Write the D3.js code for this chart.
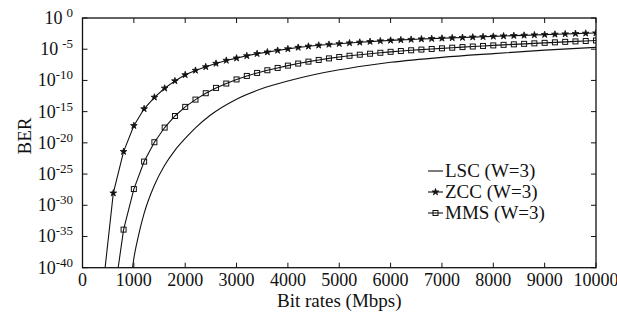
<!DOCTYPE html>
<html>
<head>
<meta charset="utf-8">
<script src="https://cdn.jsdelivr.net/npm/d3@7"></script>
<style>
  body { margin: 0; background: #fff; }
</style>
</head>
<body>
<div id="chart"></div>
<script>
// BER, kept as log10(BER)
const zccRates = d3.range(400, 10001, 200);
const zccLog = [-43, -28.05, -21.4, -17.25, -14.55, -12.7, -11.25, -10.08, -9.1, -8.4,
  -7.82, -7.28, -6.8, -6.43, -6.06, -5.72, -5.46, -5.2, -4.95, -4.72,
  -4.53, -4.37, -4.24, -4.12, -4.0, -3.89, -3.78, -3.68, -3.58,
  -3.51, -3.44, -3.37, -3.31, -3.25, -3.19, -3.13, -3.07, -3.01, -2.95,
  -2.89, -2.83, -2.78, -2.72, -2.67, -2.61, -2.56, -2.5, -2.45, -2.4];

const mmsRates = d3.range(600, 10001, 200);
const mmsLog = [-45.5, -33.9, -27.4, -23.0, -19.9, -17.55, -15.7, -14.24, -13.07, -12.05,
  -11.2, -10.5, -9.84, -9.28, -8.8, -8.37, -8.0, -7.63, -7.3, -6.99,
  -6.72, -6.47, -6.25, -6.05, -5.88, -5.72, -5.57, -5.42,
  -5.29, -5.17, -5.06, -4.96, -4.86, -4.76, -4.66, -4.57, -4.48, -4.39,
  -4.3, -4.22, -4.14, -4.06, -3.98, -3.9, -3.82, -3.75, -3.68, -3.6];

const lscRates = [900, 1000, 1100, 1200, 1400, 1600, 1800, 2000, 2200, 2500, 3000,
  3500, 4000, 4500, 5000, 5500, 6000, 7000, 8000, 9000, 10000];
const lscLog = [-45, -38.5, -34.5, -31.3, -26.8, -23.6, -21.2, -19.3, -17.6, -15.5, -13.0,
  -11.3, -10.1, -9.1, -8.3, -7.65, -7.1, -6.3, -5.7, -5.15, -4.7];

const xTicks = d3.range(0, 10001, 1000);
const yTickExp = [0, -5, -10, -15, -20, -25, -30, -35, -40];
const legendNames = ["LSC (W=3)", "ZCC (W=3)", "MMS (W=3)"];

const W = 617, H = 322;
const pLeft = 82.5, pRight = 596, pTop = 18, pBottom = 267.7;
const serif = "'Liberation Serif', 'Times New Roman', 'DejaVu Serif', serif";

const svg = d3.select("#chart").append("svg")
    .attr("width", W).attr("height", H)
    .attr("font-family", serif);

const x = d3.scaleLinear().domain([0, 10000]).range([pLeft, pRight]);
const y = d3.scaleLog().domain([1e-40, 1]).range([pBottom, pTop]);

svg.append("clipPath").attr("id", "plotclip")
  .append("rect")
    .attr("x", pLeft).attr("y", pTop)
    .attr("width", pRight - pLeft).attr("height", pBottom - pTop);

// frame
svg.append("rect")
    .attr("x", pLeft).attr("y", pTop)
    .attr("width", pRight - pLeft).attr("height", pBottom - pTop)
    .attr("fill", "none").attr("stroke", "#111").attr("stroke-width", 1.3);

// ticks, all pointing inward
const tickG = svg.append("g").attr("stroke", "#111").attr("stroke-width", 1);
xTicks.forEach(t => {
  tickG.append("line").attr("x1", x(t)).attr("x2", x(t)).attr("y1", pBottom).attr("y2", pBottom - 5);
  tickG.append("line").attr("x1", x(t)).attr("x2", x(t)).attr("y1", pTop).attr("y2", pTop + 5);
});
yTickExp.forEach(e => {
  const yy = y(Math.pow(10, e));
  tickG.append("line").attr("x1", pLeft).attr("x2", pLeft + 5).attr("y1", yy).attr("y2", yy);
  tickG.append("line").attr("x1", pRight).attr("x2", pRight - 5).attr("y1", yy).attr("y2", yy);
});

// x tick labels
svg.append("g").selectAll("text")
  .data(xTicks).enter().append("text")
    .attr("x", d => x(d))
    .attr("y", 286)
    .attr("text-anchor", "middle")
    .attr("font-family", serif)
    .style("font-size", "18px")
    .attr("fill", "#111")
    .text(d => d);

// y tick labels 10^n
const yl = svg.append("g").selectAll("text")
  .data(yTickExp).enter().append("text")
    .attr("x", 73)
    .attr("y", d => y(Math.pow(10, d)) + 6)
    .attr("text-anchor", "end")
    .attr("font-family", serif)
    .attr("fill", "#111")
    .style("font-size", "18px");
yl.append("tspan").text("10");
yl.append("tspan")
    .attr("dx", d => (d === 0 || d === -5) ? 4 : 0)
    .attr("dy", -7)
    .style("font-size", "13px")
    .text(d => d === 0 ? "0" : "-" + Math.abs(d));

// axis titles
svg.append("text")
    .attr("x", (pLeft + pRight) / 2)
    .attr("y", 307)
    .attr("text-anchor", "middle")
    .attr("font-family", serif)
    .attr("fill", "#111")
    .style("font-size", "19px")
    .text("Bit rates (Mbps)");

svg.append("text")
    .attr("transform", "translate(31,136) rotate(-90)")
    .attr("text-anchor", "middle")
    .attr("font-family", serif)
    .attr("fill", "#111")
    .style("font-size", "19px")
    .text("BER");

// series
const plot = svg.append("g").attr("clip-path", "url(#plotclip)");

const lscData = lscRates.map((r, i) => [r, lscLog[i]]);
const zccData = zccRates.map((r, i) => [r, zccLog[i]]);
const mmsData = mmsRates.map((r, i) => [r, mmsLog[i]]);

const smooth = d3.line().x(d => x(d[0])).y(d => y(Math.pow(10, d[1]))).curve(d3.curveMonotoneX);
plot.append("path").datum(lscData)
    .attr("d", smooth)
    .attr("fill", "none").attr("stroke", "#111").attr("stroke-width", 1.1);

const lin = d3.line().x(d => x(d[0])).y(d => y(Math.pow(10, d[1])));
plot.append("path").datum(zccData)
    .attr("d", lin)
    .attr("fill", "none").attr("stroke", "#111").attr("stroke-width", 1.1);
plot.append("path").datum(mmsData)
    .attr("d", lin)
    .attr("fill", "none").attr("stroke", "#111").attr("stroke-width", 1.1);

const star = d3.symbol().type(d3.symbolStar).size(14);
plot.selectAll(".zcc").data(zccData).enter().append("path")
    .attr("class", "zcc")
    .attr("transform", d => `translate(${x(d[0])},${y(Math.pow(10, d[1]))})`)
    .attr("d", star)
    .attr("fill", "#111").attr("stroke", "#111").attr("stroke-width", 0.8);

plot.selectAll(".mms").data(mmsData).enter().append("rect")
    .attr("class", "mms")
    .attr("x", d => x(d[0]) - 2.5)
    .attr("y", d => y(Math.pow(10, d[1])) - 2.5)
    .attr("width", 5).attr("height", 5)
    .attr("fill", "none").attr("stroke", "#111").attr("stroke-width", 1);

// legend
const lg = svg.append("g");
const legY = [171, 192, 213];
legendNames.forEach((name, i) => {
  lg.append("line").attr("x1", 428).attr("x2", 443)
      .attr("y1", legY[i]).attr("y2", legY[i])
      .attr("stroke", "#111").attr("stroke-width", 1.1);
  lg.append("text").attr("x", 445).attr("y", legY[i] + 6)
      .attr("font-family", serif)
      .attr("fill", "#111")
      .style("font-size", "19px").text(name);
});
lg.append("path").attr("transform", `translate(435.5,${legY[1]})`)
    .attr("d", star).attr("fill", "#111").attr("stroke", "#111").attr("stroke-width", 0.8);
lg.append("rect").attr("x", 435.5 - 2.5).attr("y", legY[2] - 2.5)
    .attr("width", 5).attr("height", 5)
    .attr("fill", "none").attr("stroke", "#111").attr("stroke-width", 1);
</script>
</body>
</html>
